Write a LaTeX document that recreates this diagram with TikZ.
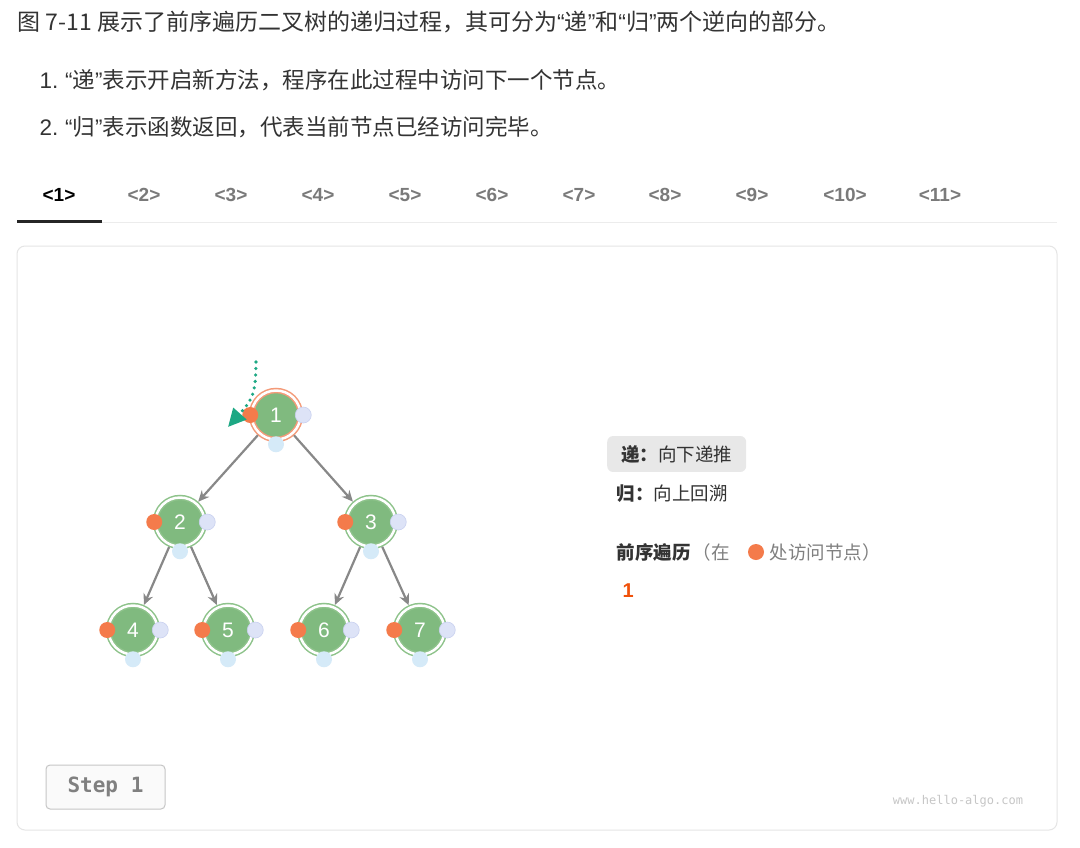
\documentclass[tikz,border=0pt]{standalone}
\usepackage{fontspec}
\setmainfont{Noto Sans CJK SC}
\newfontfamily\latinfont{Liberation Sans}
\newfontfamily\monofont{DejaVu Sans Mono}
\usetikzlibrary{arrows.meta,positioning}
\definecolor{textdark}{HTML}{333333}
\definecolor{tabgray}{HTML}{7A7A7A}
\definecolor{nodegreen}{HTML}{80BA7F}
\definecolor{ringgreen}{HTML}{8EC38B}
\definecolor{ringorange}{HTML}{F49A78}
\definecolor{visitorange}{HTML}{F47B4B}
\definecolor{lavender}{HTML}{DDE3F7}
\definecolor{lavenderedge}{HTML}{C9D1F0}
\definecolor{lightblue}{HTML}{D5EAF8}
\definecolor{edgegray}{HTML}{888888}
\definecolor{teal}{HTML}{1DA884}
\definecolor{hlgray}{HTML}{E8E8E8}
\definecolor{resultred}{HTML}{F0510A}
\newcommand{\quoted}[1]{{\latinfont “}#1{\latinfont ”}}
\begin{document}
\begin{tikzpicture}[x=1pt, y=-1pt, >=Stealth,
    body/.style={anchor=west, text=textdark, font=\fontsize{22.5}{26}\selectfont},
    tab/.style={text=tabgray, font=\latinfont\bfseries\fontsize{19}{22}\selectfont},
    treenode/.style={circle, minimum size=49pt, inner sep=0pt, outer sep=2.75pt,
        fill=nodegreen, draw=ringgreen, line width=1.5pt, double=white,
        double distance=2.5pt, text=white, font=\latinfont\fontsize{21}{24}\selectfont},
    edge/.style={-{Stealth[length=11pt,width=10pt]}, draw=edgegray, line width=2.2pt},
    visitdot/.style={circle, fill=visitorange, minimum size=16pt, inner sep=0pt},
    middot/.style={circle, fill=lavender, draw=lavenderedge, line width=.6pt, minimum size=16pt, inner sep=0pt},
    backdot/.style={circle, fill=lightblue, minimum size=16pt, inner sep=0pt},
    side/.style={anchor=west, text=textdark, font=\fontsize{18.5}{22}\selectfont}]
    % Page
    \fill[white] (0,0) rectangle (1080,847);
    \useasboundingbox (0,0) rectangle (1080,847);
    % Intro text
    \node[body, font=\fontsize{23}{26}\selectfont] (title) at (14,22) {图 7-11 展示了前序遍历二叉树的递归过程，其可分为\quoted{递}和\quoted{归}两个逆向的部分。};
    \node[body] (item1) at (36,80) {{\latinfont 1.} \quoted{递}表示开启新方法，程序在此过程中访问下一个节点。};
    \node[body] (item2) at (36,127) {{\latinfont 2.} \quoted{归}表示函数返回，代表当前节点已经访问完毕。};
    % Tabs
    \node[tab, text=black] (tab1) at (59,195) {<1>};
    \foreach \t/\x in {2/144,3/231,4/318,5/405,6/492,7/579,8/665,9/752,10/845,11/940}
        \node[tab] (tab\t) at (\x,195) {<\t>};
    \draw[gray!15, line width=1pt] (102,222) -- (1057,222);
    \draw[black!85, line width=3pt] (17,221) -- (102,221);
    % Card
    \draw[gray!20, line width=1pt, rounded corners=8pt] (17,246) rectangle (1057,830);
    % Tree
    \node[treenode, draw=ringorange] (n1) at (276,415) {1};
    \node[treenode] (n2) at (180,522) {2};
    \node[treenode] (n3) at (371,522) {3};
    \node[treenode] (n4) at (133,630) {4};
    \node[treenode] (n5) at (228,630) {5};
    \node[treenode] (n6) at (324,630) {6};
    \node[treenode] (n7) at (420,630) {7};
    \draw[edge] (n1) -- (n2);
    \draw[edge] (n1) -- (n3);
    \draw[edge] (n2) -- (n4);
    \draw[edge] (n2) -- (n5);
    \draw[edge] (n3) -- (n6);
    \draw[edge] (n3) -- (n7);
    \foreach \n in {1,...,7} {
        \node[visitdot, xshift=1.5pt] (pre\n) at (n\n.west) {};
        \node[middot] (in\n) at (n\n.east) {};
        \node[backdot, yshift=-2pt] (post\n) at (n\n.south) {};
    }
    % Call arrow
    \coordinate (callstart) at (256,362);
    \coordinate (callend) at (228,427);
    \draw[teal, line width=3.6pt, line cap=round, dash pattern=on 0pt off 6.5pt,
        -{Triangle[length=18pt,width=17pt]}]
        (callstart) .. controls (256,394) and (252,400) .. (callend);
    % Legend
    \node[side, fill=hlgray, rounded corners=6pt, inner xsep=10pt, inner ysep=9pt,
        minimum width=139pt] (down) at (607,454) {\textbf{递：}向下递推};
    \node[side] (up) at (613,494) {\textbf{归：}向上回溯};
    \node[side] (order) at (613,552) {\textbf{前序遍历}};
    \node[side, text=gray] (where) at (689,552) {（在};
    \node[visitdot] (legenddot) at (756,552) {};
    \node[side, text=gray] (place) at (766,552) {处访问节点）};
    \node[anchor=west, text=resultred, font=\latinfont\bfseries\fontsize{20}{22}\selectfont] (result) at (619,591) {1};
    % Step button
    \node[draw=gray!45, fill=gray!4, rounded corners=4pt, line width=1pt,
        minimum width=119pt, minimum height=44pt, text=black!50,
        font=\monofont\bfseries\fontsize{21}{24}\selectfont] (stepbtn) at (105.5,787) {Step 1};
    \node[text=gray!45, font=\monofont\fontsize{12}{14}\selectfont] (site) at (958,801) {www.hello-algo.com};
\end{tikzpicture}
\end{document}
